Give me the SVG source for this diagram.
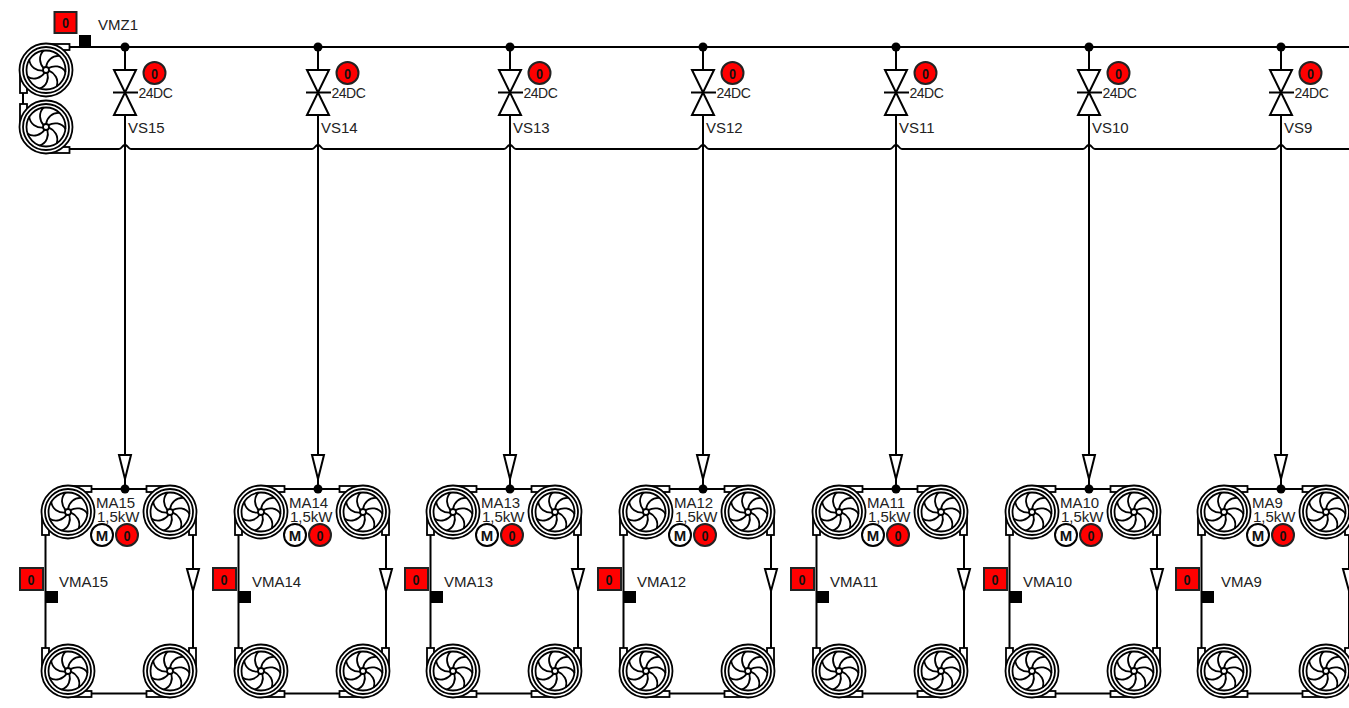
<svg xmlns="http://www.w3.org/2000/svg" width="1349" height="708" viewBox="0 0 1349 708">
<style>
text{font-family:"Liberation Sans",Arial,sans-serif;font-size:15px;fill:#222}
.b{font-size:15px;font-weight:700;text-anchor:middle;fill:#111}
.d{font-size:14px;letter-spacing:-.5px}
.l{fill:none;stroke:#000;stroke-width:2}
.w{fill:#fff;stroke:#000;stroke-width:2}
.t{fill:#fff;stroke:#000;stroke-width:1.8}
.r{fill:#f00;stroke:#222;stroke-width:2}
.s{fill:#000}
</style>
<defs>
<path id="bl" d="M0,-3C1,-9 6,-15 14,-14" fill="none" stroke="#000" stroke-width="1.8"/>
<g id="h">
<rect class="t" x="2" y="-26" width="21.5" height="6"/>
<rect class="t" x="-26" y="2" width="7" height="21"/>
<circle class="t" r="26.5"/><circle class="t" r="23"/><circle class="t" r="19.5"/>
</g>
<g id="i">
<use href="#bl"/><use href="#bl" transform="rotate(51.43)"/><use href="#bl" transform="rotate(102.86)"/><use href="#bl" transform="rotate(154.29)"/><use href="#bl" transform="rotate(205.71)"/><use href="#bl" transform="rotate(257.14)"/><use href="#bl" transform="rotate(308.57)"/>
<circle class="t" r="3"/>
</g>
<text id="z" class="b" textLength="7" lengthAdjust="spacingAndGlyphs">0</text>
<g id="valve">
<path class="l" d="M0,47V70M0,115V149"/>
<path class="w" d="M-11,70H11L-11,115H11Z"/>
<path class="l" d="M-12,92.5H13"/>
<circle class="r" cx="29.5" cy="73" r="11"/>
<use href="#z" x="29.5" y="78.5"/>
<text class="d" x="13.5" y="98">24DC</text>
</g>
<g id="unit">
<use href="#h" transform="translate(68,512)"/><use href="#i" x="68" y="512"/>
<use href="#h" transform="translate(170,512) scale(-1,1)"/><use href="#i" x="170" y="512"/>
<use href="#h" transform="translate(68,671) scale(1,-1)"/><use href="#i" x="68" y="671"/>
<use href="#h" transform="translate(170,671) scale(-1,-1)"/><use href="#i" x="170" y="671"/>
<text x="97" y="522">1,5kW</text>
<circle class="w" cx="102" cy="535" r="11"/>
<text class="b" x="102" y="540.5">M</text>
<circle class="r" cx="127" cy="535" r="11"/>
<use href="#z" x="127" y="540.5"/>
<rect class="r" x="20" y="568" width="23" height="22"/>
<use href="#z" x="31" y="584.5"/>
<rect class="s" x="46" y="591" width="12" height="12"/>
</g>
<g id="wires">
<path class="l" d="M0,149V489M-57,489H57M-79.5,534V650M68,534V650M-57,693.5H44"/>
<path class="w" d="M-6,455H6L0,479Z"/>
<circle class="s" cy="489" r="4.5"/>
<path class="w" d="M62,569H74L68,591Z"/>
</g>
</defs>

<g id="connectors">
<path class="l" d="M68,47H1349M23,90V110"/>
<path class="l" d="M68,149H119c3,0 3,-4 6,-4s3,4 6,4H312c3,0 3,-4 6,-4s3,4 6,4H504c3,0 3,-4 6,-4s3,4 6,4H697c3,0 3,-4 6,-4s3,4 6,4H890c3,0 3,-4 6,-4s3,4 6,4H1083c3,0 3,-4 6,-4s3,4 6,4H1275c3,0 3,-4 6,-4s3,4 6,4H1349"/>
<circle class="s" cx="125" cy="47" r="4.5"/><circle class="s" cx="318" cy="47" r="4.5"/><circle class="s" cx="510" cy="47" r="4.5"/><circle class="s" cx="703" cy="47" r="4.5"/><circle class="s" cx="896" cy="47" r="4.5"/><circle class="s" cx="1089" cy="47" r="4.5"/><circle class="s" cx="1281" cy="47" r="4.5"/>
<use href="#wires" transform="translate(125,0)"/>
<use href="#wires" transform="translate(318,0)"/>
<use href="#wires" transform="translate(510,0)"/>
<use href="#wires" transform="translate(703,0)"/>
<use href="#wires" transform="translate(896,0)"/>
<use href="#wires" transform="translate(1089,0)"/>
<use href="#wires" transform="translate(1281,0)"/>
</g>

<g id="VMZ1">
<use href="#h" transform="translate(46,70)"/><use href="#i" x="46" y="70"/>
<use href="#h" transform="translate(46,127) scale(1,-1)"/><use href="#i" x="46" y="127"/>
<rect class="r" x="54.5" y="12" width="22" height="21"/>
<use href="#z" x="65.5" y="27.5"/>
<rect class="s" x="79" y="35" width="12" height="12"/>
<text x="98" y="30">VMZ1</text>
</g>

<g id="VS15" transform="translate(125,0)"><use href="#valve"/><text x="3" y="133">VS15</text></g>
<g id="VS14" transform="translate(318,0)"><use href="#valve"/><text x="3" y="133">VS14</text></g>
<g id="VS13" transform="translate(510,0)"><use href="#valve"/><text x="3" y="133">VS13</text></g>
<g id="VS12" transform="translate(703,0)"><use href="#valve"/><text x="3" y="133">VS12</text></g>
<g id="VS11" transform="translate(896,0)"><use href="#valve"/><text x="3" y="133">VS11</text></g>
<g id="VS10" transform="translate(1089,0)"><use href="#valve"/><text x="3" y="133">VS10</text></g>
<g id="VS9" transform="translate(1281,0)"><use href="#valve"/><text x="3" y="133">VS9</text></g>

<g id="MA15"><use href="#unit"/><text x="96" y="508">MA15</text><text x="59" y="587">VMA15</text></g>
<g id="MA14" transform="translate(193,0)"><use href="#unit"/><text x="96" y="508">MA14</text><text x="59" y="587">VMA14</text></g>
<g id="MA13" transform="translate(385,0)"><use href="#unit"/><text x="96" y="508">MA13</text><text x="59" y="587">VMA13</text></g>
<g id="MA12" transform="translate(578,0)"><use href="#unit"/><text x="96" y="508">MA12</text><text x="59" y="587">VMA12</text></g>
<g id="MA11" transform="translate(771,0)"><use href="#unit"/><text x="96" y="508">MA11</text><text x="59" y="587">VMA11</text></g>
<g id="MA10" transform="translate(964,0)"><use href="#unit"/><text x="96" y="508">MA10</text><text x="59" y="587">VMA10</text></g>
<g id="MA9" transform="translate(1156,0)"><use href="#unit"/><text x="96" y="508">MA9</text><text x="65" y="587">VMA9</text></g>
</svg>
